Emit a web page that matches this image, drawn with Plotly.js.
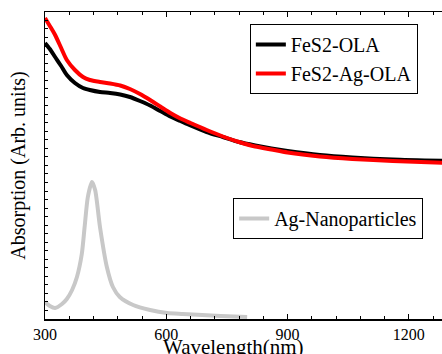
<!DOCTYPE html>
<html>
<head>
<meta charset="utf-8">
<script src="https://cdn.plot.ly/plotly-3.0.1.min.js"></script>
<style>
html,body{margin:0;padding:0;background:#fff;}
#chart{width:442px;height:354px;}
#chart text{font-family:'Liberation Serif', serif !important;}
#warm{position:absolute;left:2px;top:2px;font-family:'Liberation Serif';font-size:20px;line-height:20px;}
</style>
</head>
<body>
<div id="chart"></div>
<div id="warm">&nbsp;</div>
<script>
// Wavelength (nm) and absorption (arbitrary units)
const olaWave = [300, 312, 325, 340, 354, 374, 394, 411, 436, 461, 486, 510, 535, 560, 585, 610, 635, 660, 700, 740, 780, 820, 860, 900, 980, 1060, 1160, 1300];
const olaAbs  = [276, 270, 262, 253, 244, 236, 231, 229, 227, 226, 224.5, 222, 218, 213.5, 208, 202.5, 198, 193.5, 187, 182, 177, 173.5, 170.5, 168, 164, 161.5, 159.5, 158];

const agOlaWave = [300, 312, 325, 340, 354, 374, 394, 411, 436, 461, 486, 510, 535, 560, 585, 610, 635, 660, 700, 740, 780, 820, 860, 900, 980, 1060, 1160, 1300];
const agOlaAbs  = [301, 293, 284, 271, 259, 249, 242, 239, 237, 235.5, 233.5, 230, 225, 219, 212.5, 206, 200.5, 196, 189, 182.5, 177, 172.5, 169.5, 166.5, 162.5, 160, 158, 156];

const agNpWave = [300, 312, 325, 342, 354, 367, 379, 391, 398, 406, 416, 424, 436, 453, 468, 485, 518, 560, 602, 641, 735, 800];
const agNpAbs  = [17, 13, 11, 15, 20, 29, 42, 65, 92, 122, 137, 129, 92, 52, 32, 22, 14, 9, 6, 5, 3, 2];

const xTickVals = [300, 600, 900, 1200];

const serif = "Liberation Serif";

const traces = [
  {x: olaWave, y: olaAbs, type: 'scatter', mode: 'lines', name: 'FeS2-OLA',
   line: {color: '#000000', width: 4, shape: 'spline', smoothing: 0.7}, legend: 'legend'},
  {x: agOlaWave, y: agOlaAbs, type: 'scatter', mode: 'lines', name: 'FeS2-Ag-OLA',
   line: {color: '#ff0000', width: 4, shape: 'spline', smoothing: 0.7}, legend: 'legend'},
  {x: agNpWave, y: agNpAbs, type: 'scatter', mode: 'lines', name: 'Ag-Nanoparticles',
   line: {color: '#c8c8c8', width: 4, shape: 'spline', smoothing: 0.7}, legend: 'legend2'}
];

const layout = {
  width: 442, height: 354,
  margin: {l: 45, r: 0, t: 12, b: 35},
  paper_bgcolor: '#ffffff', plot_bgcolor: '#ffffff',
  font: {family: serif, color: '#000000', size: 16},
  showlegend: true,
  xaxis: {
    range: [300, 1282], tickvals: xTickVals, ticktext: xTickVals.map(String),
    ticks: 'inside', ticklen: 5, tickwidth: 1, tickcolor: '#000',
    minor: {dtick: 60, tick0: 300, ticks: 'inside', ticklen: 3, tickcolor: '#000'},
    showline: true, linecolor: '#000', linewidth: 1.5, mirror: 'ticks',
    showgrid: false, zeroline: false,
    tickfont: {family: serif, size: 16, color: '#000'}
  },
  yaxis: {
    range: [0, 307], dtick: 8.53, tick0: 0,
    ticks: 'inside', ticklen: 3, tickwidth: 1, tickcolor: '#000',
    showticklabels: false,
    showline: true, linecolor: '#000', linewidth: 1.5,
    showgrid: false, zeroline: false,
    title: {text: 'Absorption (Arb. units)', font: {family: serif, size: 20, color: '#000'}, standoff: 12}
  },
  legend: {
    x: 0.516, y: 0.961, xanchor: 'left', yanchor: 'top',
    bgcolor: '#ffffff', bordercolor: '#000', borderwidth: 1,
    font: {family: serif, size: 20, color: '#000'},
    tracegroupgap: 0
  },
  legend2: {
    x: 0.474, y: 0.394, xanchor: 'left', yanchor: 'top',
    bgcolor: '#ffffff', bordercolor: '#000', borderwidth: 1,
    font: {family: serif, size: 20, color: '#000'}
  },
  annotations: [{
    text: 'Wavelength(nm)', xref: 'paper', yref: 'paper',
    x: (233 - 45) / 397, y: 0, yshift: -14, xanchor: 'center', yanchor: 'top',
    showarrow: false, font: {family: serif, size: 21, color: '#000'}
  }]
};

const cfg = {displayModeBar: false, staticPlot: true};
Plotly.newPlot('chart', traces, layout, cfg).then(() => {
  document.getElementById('warm').setAttribute('data-ready', '1');
});
</script>
</body>
</html>
